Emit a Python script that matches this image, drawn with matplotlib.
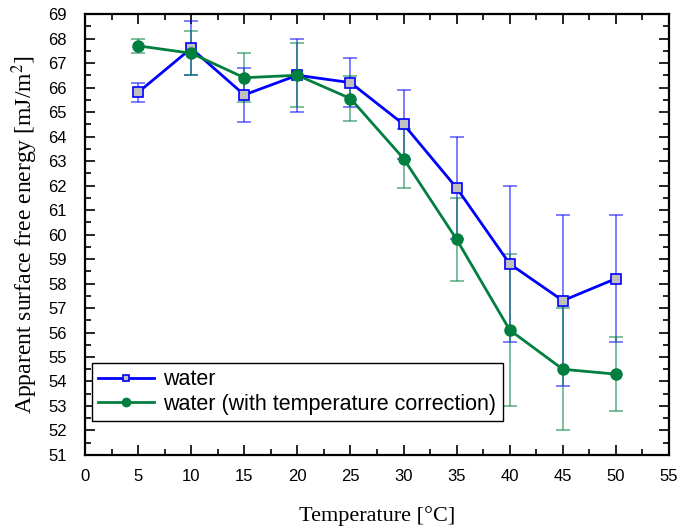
import numpy as np
import matplotlib.pyplot as plt
from matplotlib.ticker import MultipleLocator

plt.rcParams['mathtext.fontset'] = 'stix'

temp = [5, 10, 15, 20, 25, 30, 35, 40, 45, 50]

water = [65.8, 67.6, 65.7, 66.5, 66.2, 64.5, 61.9, 58.8, 57.3, 58.2]
water_lo = [65.4, 66.5, 64.6, 65.0, 65.2, 63.1, 59.8, 55.6, 53.8, 55.6]
water_hi = [66.2, 68.7, 66.8, 68.0, 67.2, 65.9, 64.0, 62.0, 60.8, 60.8]

corr = [67.7, 67.4, 66.4, 66.5, 65.55, 63.1, 59.8, 56.1, 54.5, 54.3]
corr_lo = [67.4, 66.5, 65.4, 65.2, 64.65, 61.9, 58.1, 53.0, 52.0, 52.8]
corr_hi = [68.0, 68.3, 67.4, 67.8, 66.45, 64.3, 61.5, 59.2, 57.0, 55.8]

blue = '#0000ff'
green = '#007f3f'

fig = plt.figure(figsize=(6.79, 5.29), dpi=100)
ax = fig.add_axes([0.1252, 0.1399, 0.8601, 0.8336])

w = np.array(water)
c = np.array(corr)
w_err = [w - np.array(water_lo), np.array(water_hi) - w]
c_err = [c - np.array(corr_lo), np.array(corr_hi) - c]

ax.errorbar(temp, water, yerr=w_err, fmt='none', ecolor=blue, elinewidth=1.2,
            capsize=5, capthick=1.2, alpha=0.6, zorder=2)
ax.errorbar(temp, corr, yerr=c_err, fmt='none', ecolor=green, elinewidth=1.2,
            capsize=5, capthick=1.2, alpha=0.6, zorder=2)

ax.plot(temp, water, color=blue, lw=2, marker='s', ms=6.5, mfc='#c0c0c0',
        mec=blue, mew=1.2, label='water', zorder=3)
ax.plot(temp, corr, color=green, lw=2, marker='o', ms=8, mfc=green,
        mec=green, label='water (with temperature correction)', zorder=4)

ax.set_xlim(0, 55)
ax.set_ylim(51, 69)
ax.xaxis.set_major_locator(MultipleLocator(5))
ax.xaxis.set_minor_locator(MultipleLocator(2.5))
ax.yaxis.set_major_locator(MultipleLocator(1))
ax.yaxis.set_minor_locator(MultipleLocator(0.5))
ax.tick_params(which='both', direction='in', top=True, right=True, width=1.2)
ax.tick_params(which='major', length=7, labelsize=12)
ax.tick_params(which='minor', length=4)
ax.tick_params(axis='y', which='major', pad=13)
ax.tick_params(axis='x', which='major', pad=10)
for lab in ax.get_xticklabels() + ax.get_yticklabels():
    lab.set_family('Liberation Sans')
for s in ax.spines.values():
    s.set_linewidth(1.6)

ax.set_xlabel('Temperature [°C]', family='Liberation Serif', fontsize=16, labelpad=16)
ax.set_ylabel('Apparent surface free energy [mJ/m$^2$]', family='Liberation Serif',
              fontsize=17, labelpad=6)

leg = ax.legend(loc='lower left', bbox_to_anchor=(0.012, 0.077), fancybox=False,
                edgecolor='black', framealpha=1, borderaxespad=0,
                prop={'family': 'Liberation Sans', 'size': 15.5}, handlelength=2.6,
                labelspacing=0.15, borderpad=0.3, handletextpad=0.4,
                markerscale=0.75)
leg.get_frame().set_linewidth(1)

fig.savefig('out.png', dpi=100)
